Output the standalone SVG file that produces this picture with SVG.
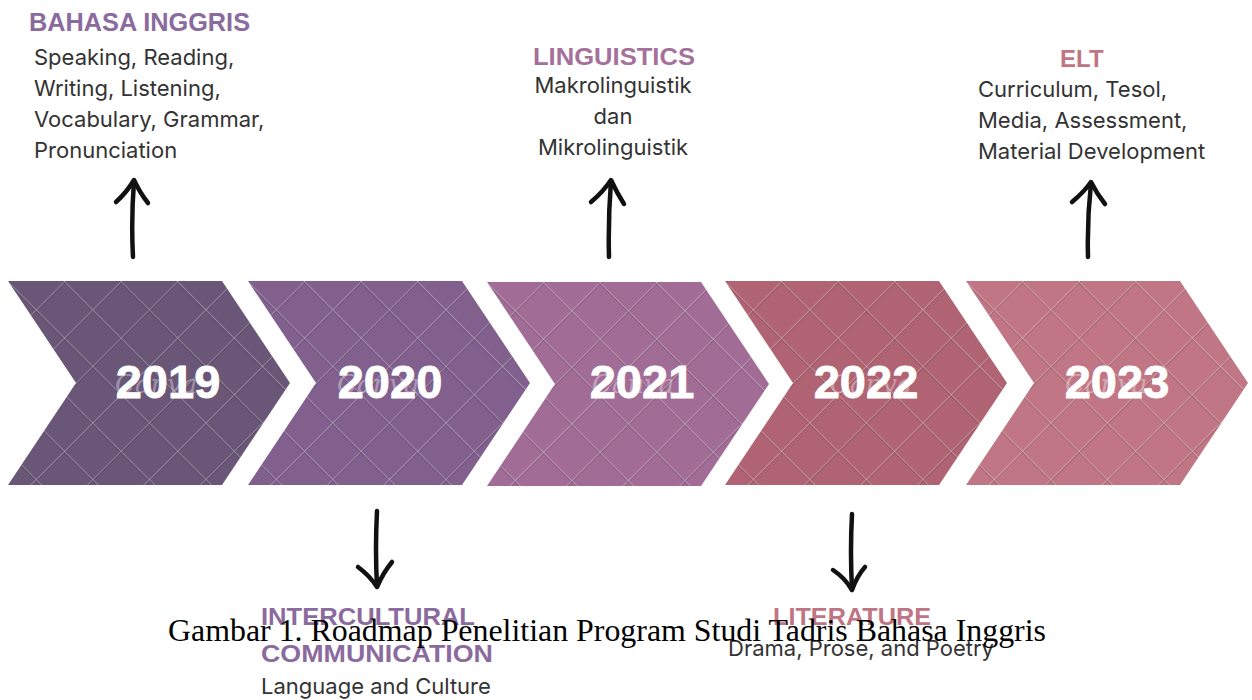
<svg xmlns="http://www.w3.org/2000/svg" width="1252" height="700" viewBox="0 0 1252 700">
<defs>
<style>
.head{font-family:"Liberation Sans",Arial,sans-serif;font-weight:bold;}
.body{font-family:Inter,"Liberation Sans",sans-serif;font-size:22px;fill:#333333;}
.year{font-family:"Liberation Sans",Arial,sans-serif;font-weight:bold;font-size:47px;fill:#ffffff;stroke:#ffffff;stroke-width:0.8;text-anchor:middle;}
.wm{font-family:"DejaVu Serif",serif;font-style:italic;font-size:26px;fill:#ffffff;opacity:0.35;}
.arrow{fill:none;stroke:#111111;stroke-width:4.5;stroke-linecap:round;stroke-linejoin:round;}
.grid{fill:url(#grid);}
.cap{font-family:"Liberation Serif","Times New Roman",serif;font-size:31px;fill:#000000;}
</style>
<pattern id="grid" patternUnits="userSpaceOnUse" width="40" height="40" patternTransform="rotate(45)">
<line x1="0.5" y1="0" x2="0.5" y2="40" stroke="#ffffff" stroke-opacity="0.28" stroke-width="1"/>
<line x1="1.5" y1="0" x2="1.5" y2="40" stroke="#000000" stroke-opacity="0.15" stroke-width="1"/>
<line x1="0" y1="0.5" x2="40" y2="0.5" stroke="#ffffff" stroke-opacity="0.28" stroke-width="1"/>
<line x1="0" y1="1.5" x2="40" y2="1.5" stroke="#000000" stroke-opacity="0.15" stroke-width="1"/>
</pattern>
<polygon id="chev" points="0,0 214,0 282,102 214,204 0,204 68,102"/>
</defs>
<rect width="1252" height="700" fill="#ffffff"/>

<g id="node-2019">
<use href="#chev" x="8" y="281" fill="#6a5677"/>
<use href="#chev" x="8" y="281" class="grid"/>
<text class="wm" x="115" y="393">Canva</text>
<text class="year" x="168" y="398">2019</text>
</g>
<g id="node-2020">
<use href="#chev" x="248" y="281" fill="#81608e"/>
<use href="#chev" x="248" y="281" class="grid"/>
<text class="wm" x="337" y="393">Canva</text>
<text class="year" x="390" y="398">2020</text>
</g>
<g id="node-2021">
<use href="#chev" x="487" y="282" fill="#a16c96"/>
<use href="#chev" x="487" y="282" class="grid"/>
<text class="wm" x="592" y="393">Canva</text>
<text class="year" x="642" y="398">2021</text>
</g>
<g id="node-2022">
<use href="#chev" x="725" y="281" fill="#b06473"/>
<use href="#chev" x="725" y="281" class="grid"/>
<text class="wm" x="830" y="393">Canva</text>
<text class="year" x="866" y="398">2022</text>
</g>
<g id="node-2023">
<use href="#chev" x="966" y="281" fill="#c07684"/>
<use href="#chev" x="966" y="281" class="grid"/>
<text class="wm" x="1065" y="393">Canva</text>
<text class="year" x="1117" y="398">2023</text>
</g>

<g id="connectors">
<path class="arrow" d="M133,257 Q131,220 134,181"/>
<path class="arrow" d="M116,202 Q127,192 134,180 Q140,193 148,203"/>
<path class="arrow" d="M609,257 Q608,220 611,181"/>
<path class="arrow" d="M591,202 Q603,192 611,180 Q617,193 624,204"/>
<path class="arrow" d="M1088,257 Q1087,220 1091,183"/>
<path class="arrow" d="M1072,202 Q1084,192 1091,182 Q1097,194 1105,204"/>
<path class="arrow" d="M377,511 Q375,550 377,586"/>
<path class="arrow" d="M358,567 Q370,576 377,587 Q383,573 392,562"/>
<path class="arrow" d="M852,514 Q850,552 852,589"/>
<path class="arrow" d="M833,570 Q845,578 852,590 Q857,576 865,567"/>
</g>

<g id="bahasa-inggris">
<text class="head" x="29" y="31" font-size="25" fill="#8b6a9e" textLength="221" lengthAdjust="spacingAndGlyphs">BAHASA INGGRIS</text>
<text class="body" x="34" y="65">Speaking, Reading,</text>
<text class="body" x="34" y="96">Writing, Listening,</text>
<text class="body" x="34" y="127">Vocabulary, Grammar,</text>
<text class="body" x="34" y="158">Pronunciation</text>
</g>
<g id="linguistics">
<text class="head" x="533" y="65" font-size="24" fill="#a5709b" textLength="162" lengthAdjust="spacingAndGlyphs">LINGUISTICS</text>
<text class="body" x="613" y="93" text-anchor="middle">Makrolinguistik</text>
<text class="body" x="613" y="124" text-anchor="middle">dan</text>
<text class="body" x="613" y="155" text-anchor="middle">Mikrolinguistik</text>
</g>
<g id="elt">
<text class="head" x="1060" y="67" font-size="24" fill="#c07585">ELT</text>
<text class="body" x="978" y="97">Curriculum, Tesol,</text>
<text class="body" x="978" y="128">Media, Assessment,</text>
<text class="body" x="978" y="159">Material Development</text>
</g>
<g id="intercultural">
<text class="head" x="261" y="625" font-size="23" fill="#8b6a9e" textLength="214" lengthAdjust="spacingAndGlyphs">INTERCULTURAL</text>
<text class="head" x="261" y="662" font-size="23" fill="#8b6a9e" textLength="232" lengthAdjust="spacingAndGlyphs">COMMUNICATION</text>
<text class="body" x="261" y="694">Language and Culture</text>
</g>
<g id="literature">
<text class="head" x="773" y="625" font-size="23" fill="#c07585" textLength="158" lengthAdjust="spacingAndGlyphs">LITERATURE</text>
<text class="body" x="861" y="656" text-anchor="middle">Drama, Prose, and Poetry</text>
</g>

<text class="cap" x="168" y="641" textLength="878" lengthAdjust="spacingAndGlyphs">Gambar 1. Roadmap Penelitian Program Studi Tadris Bahasa Inggris</text>
</svg>
